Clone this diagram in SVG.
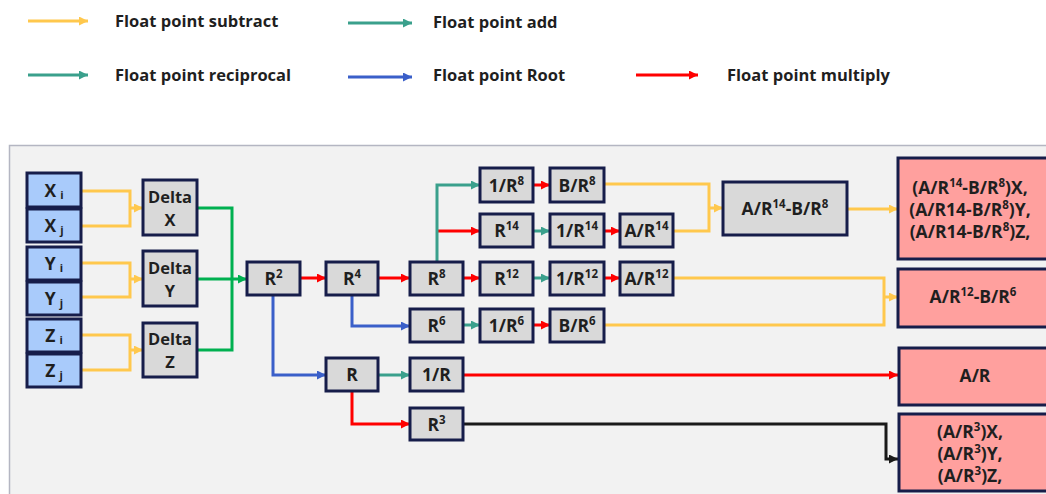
<svg xmlns="http://www.w3.org/2000/svg" width="1046" height="494" viewBox="0 0 1046 494">
  <style>
    text { font-family: "Open Sans", "Noto Sans", "Liberation Sans", sans-serif; font-weight: 700; fill: #1f1f1f; }
    .legend { font-size: 16.5px; }
    .lbl { font-size: 17.5px; text-anchor: middle; }
    .two { font-size: 16.5px; }
    .sup { font-size: 11.5px; }
    .sub { font-size: 11px; }
    .node-in rect { fill: #a9cbfb; stroke: #161d4a; stroke-width: 3; }
    .node rect { fill: #d9d9d9; stroke: #161d4a; stroke-width: 3; }
    .node-out rect { fill: #ffa09e; stroke: #161d4a; stroke-width: 3; }
    .wire { fill: none; stroke-width: 3; }
    .sub-c { stroke: #ffc84d; }
    .add-c { stroke: #3aa08c; }
    .grn-c { stroke: #00b050; }
    .root-c { stroke: #3a5fc9; }
    .mul-c { stroke: #ff0000; }
    .blk-c { stroke: #1a1a1a; }
  </style>
  <defs>
    <marker id="ah-sub" markerUnits="userSpaceOnUse" markerWidth="9" markerHeight="9" refX="9" refY="4.5" orient="auto"><path d="M0,0 L9,4.5 L0,9 z" fill="#ffc84d"/></marker>
    <marker id="ah-add" markerUnits="userSpaceOnUse" markerWidth="9" markerHeight="9" refX="9" refY="4.5" orient="auto"><path d="M0,0 L9,4.5 L0,9 z" fill="#3aa08c"/></marker>
    <marker id="ah-grn" markerUnits="userSpaceOnUse" markerWidth="9" markerHeight="9" refX="9" refY="4.5" orient="auto"><path d="M0,0 L9,4.5 L0,9 z" fill="#00b050"/></marker>
    <marker id="ah-root" markerUnits="userSpaceOnUse" markerWidth="9" markerHeight="9" refX="9" refY="4.5" orient="auto"><path d="M0,0 L9,4.5 L0,9 z" fill="#3a5fc9"/></marker>
    <marker id="ah-mul" markerUnits="userSpaceOnUse" markerWidth="9" markerHeight="9" refX="9" refY="4.5" orient="auto"><path d="M0,0 L9,4.5 L0,9 z" fill="#ff0000"/></marker>
    <marker id="ah-blk" markerUnits="userSpaceOnUse" markerWidth="9" markerHeight="9" refX="9" refY="4.5" orient="auto"><path d="M0,0 L9,4.5 L0,9 z" fill="#1a1a1a"/></marker>
  </defs>

  <rect width="1046" height="494" fill="#ffffff"/>

  <!-- legend -->
  <g id="legend">
    <path class="wire sub-c" d="M28,21 H88" stroke-width="4" marker-end="url(#ah-sub)"/>
    <text class="legend" x="115" y="27">Float point subtract</text>
    <path class="wire add-c" d="M348,23 H412" stroke-width="4" marker-end="url(#ah-add)"/>
    <text class="legend" x="433" y="28">Float point add</text>
    <path class="wire add-c" d="M28,75 H88" stroke-width="4" marker-end="url(#ah-add)"/>
    <text class="legend" x="115" y="81">Float point reciprocal</text>
    <path class="wire root-c" d="M348,77 H412" stroke-width="4" marker-end="url(#ah-root)"/>
    <text class="legend" x="433" y="81">Float point Root</text>
    <path class="wire mul-c" d="M636,75 H698" stroke-width="4" marker-end="url(#ah-mul)"/>
    <text class="legend" x="727" y="81">Float point multiply</text>
  </g>

  <!-- panel -->
  <rect x="9.5" y="145.5" width="1045" height="360" fill="#f2f2f2" stroke="#b4b6c2" stroke-width="1.5"/>

  <!-- connectors -->
  <g id="connectors">
    <path class="wire sub-c" d="M81,191 H130 V226 H81"/>
    <path class="wire sub-c" d="M130,208 H143" marker-end="url(#ah-sub)"/>
    <path class="wire sub-c" d="M81,263 H130 V297 H81"/>
    <path class="wire sub-c" d="M130,279 H143" marker-end="url(#ah-sub)"/>
    <path class="wire sub-c" d="M81,335 H130 V370 H81"/>
    <path class="wire sub-c" d="M130,350 H143" marker-end="url(#ah-sub)"/>

    <path class="wire grn-c" d="M197,208 H232 V350 H197"/>
    <path class="wire grn-c" d="M197,279 H247" marker-end="url(#ah-grn)"/>

    <path class="wire mul-c" d="M300,278 H326" marker-end="url(#ah-mul)"/>
    <path class="wire mul-c" d="M378,278 H410" marker-end="url(#ah-mul)"/>
    <path class="wire mul-c" d="M463,278 H480" marker-end="url(#ah-mul)"/>
    <path class="wire mul-c" d="M437,231 H480" marker-end="url(#ah-mul)"/>
    <path class="wire mul-c" d="M533,185 H550" marker-end="url(#ah-mul)"/>
    <path class="wire mul-c" d="M604,231 H620" marker-end="url(#ah-mul)"/>
    <path class="wire mul-c" d="M604,278 H620" marker-end="url(#ah-mul)"/>
    <path class="wire mul-c" d="M533,325 H550" marker-end="url(#ah-mul)"/>
    <path class="wire mul-c" d="M463,375 H898" marker-end="url(#ah-mul)"/>
    <path class="wire mul-c" d="M352,391 V424 H410" marker-end="url(#ah-mul)"/>

    <path class="wire add-c" d="M437,262 V185 H480" marker-end="url(#ah-add)"/>
    <path class="wire add-c" d="M533,231 H550" marker-end="url(#ah-add)"/>
    <path class="wire add-c" d="M533,278 H550" marker-end="url(#ah-add)"/>
    <path class="wire add-c" d="M463,325 H480" marker-end="url(#ah-add)"/>
    <path class="wire add-c" d="M378,375 H410" marker-end="url(#ah-add)"/>

    <path class="wire root-c" d="M273,295 V375 H326" marker-end="url(#ah-root)"/>
    <path class="wire root-c" d="M352,295 V326 H410" marker-end="url(#ah-root)"/>

    <path class="wire sub-c" d="M604,184 H709 V231 H673"/>
    <path class="wire sub-c" d="M709,208 H723" marker-end="url(#ah-sub)"/>
    <path class="wire sub-c" d="M847,209 H898" stroke-width="4" marker-end="url(#ah-sub)"/>
    <path class="wire sub-c" d="M673,278 H884 V325 H604"/>
    <path class="wire sub-c" d="M884,297 H898" marker-end="url(#ah-sub)"/>

    <path class="wire blk-c" d="M463,424 H886 V459 H898" marker-end="url(#ah-blk)"/>
  </g>

  <!-- input coordinates -->
  <g id="xi" class="node-in"><rect x="27" y="173" width="54" height="34"/><text class="lbl" x="54" y="197">X<tspan class="sub" dx="4" dy="2">i</tspan></text></g>
  <g id="xj" class="node-in"><rect x="27" y="209" width="54" height="33"/><text class="lbl" x="54" y="232">X<tspan class="sub" dx="4" dy="2">j</tspan></text></g>
  <g id="yi" class="node-in"><rect x="27" y="247" width="54" height="33"/><text class="lbl" x="54" y="270">Y<tspan class="sub" dx="4" dy="2">i</tspan></text></g>
  <g id="yj" class="node-in"><rect x="27" y="282" width="54" height="33"/><text class="lbl" x="54" y="305">Y<tspan class="sub" dx="4" dy="2">j</tspan></text></g>
  <g id="zi" class="node-in"><rect x="27" y="319" width="54" height="33"/><text class="lbl" x="54" y="342">Z<tspan class="sub" dx="4" dy="2">i</tspan></text></g>
  <g id="zj" class="node-in"><rect x="27" y="354" width="54" height="33"/><text class="lbl" x="54" y="377">Z<tspan class="sub" dx="4" dy="2">j</tspan></text></g>

  <!-- differences -->
  <g id="delta-x" class="node"><rect x="143" y="180" width="54" height="55"/><text class="lbl two" x="170" y="202.5">Delta</text><text class="lbl two" x="170" y="225.5">X</text></g>
  <g id="delta-y" class="node"><rect x="143" y="251" width="54" height="55"/><text class="lbl two" x="170" y="273.5">Delta</text><text class="lbl two" x="170" y="296.5">Y</text></g>
  <g id="delta-z" class="node"><rect x="143" y="323" width="54" height="54"/><text class="lbl two" x="170" y="345">Delta</text><text class="lbl two" x="170" y="368">Z</text></g>

  <!-- powers of R -->
  <g id="r2" class="node"><rect x="247" y="262" width="53" height="33"/><text class="lbl" x="273.5" y="285">R<tspan class="sup" dy="-7">2</tspan></text></g>
  <g id="r4" class="node"><rect x="326" y="262" width="52" height="33"/><text class="lbl" x="352" y="285">R<tspan class="sup" dy="-7">4</tspan></text></g>
  <g id="r8" class="node"><rect x="410" y="262" width="53" height="33"/><text class="lbl" x="436.5" y="285">R<tspan class="sup" dy="-7">8</tspan></text></g>
  <g id="r6" class="node"><rect x="410" y="309" width="53" height="33"/><text class="lbl" x="436.5" y="332">R<tspan class="sup" dy="-7">6</tspan></text></g>
  <g id="r" class="node"><rect x="326" y="358" width="52" height="33"/><text class="lbl" x="352" y="381">R</text></g>
  <g id="inv-r" class="node"><rect x="410" y="358" width="53" height="33"/><text class="lbl" x="436.5" y="381">1/R</text></g>
  <g id="r3" class="node"><rect x="410" y="408" width="53" height="32"/><text class="lbl" x="436.5" y="431">R<tspan class="sup" dy="-7">3</tspan></text></g>

  <g id="inv-r8" class="node"><rect x="480" y="168" width="53" height="34"/><text class="lbl" x="506.5" y="192">1/R<tspan class="sup" dy="-7">8</tspan></text></g>
  <g id="b-r8" class="node"><rect x="550" y="168" width="54" height="34"/><text class="lbl" x="577" y="192">B/R<tspan class="sup" dy="-7">8</tspan></text></g>
  <g id="r14" class="node"><rect x="480" y="214" width="53" height="33"/><text class="lbl" x="506.5" y="237">R<tspan class="sup" dy="-7">14</tspan></text></g>
  <g id="inv-r14" class="node"><rect x="550" y="214" width="54" height="33"/><text class="lbl" x="577" y="237">1/R<tspan class="sup" dy="-7">14</tspan></text></g>
  <g id="a-r14" class="node"><rect x="620" y="214" width="53" height="33"/><text class="lbl" x="646.5" y="237">A/R<tspan class="sup" dy="-7">14</tspan></text></g>
  <g id="r12" class="node"><rect x="480" y="262" width="53" height="33"/><text class="lbl" x="506.5" y="285">R<tspan class="sup" dy="-7">12</tspan></text></g>
  <g id="inv-r12" class="node"><rect x="550" y="262" width="54" height="33"/><text class="lbl" x="577" y="285">1/R<tspan class="sup" dy="-7">12</tspan></text></g>
  <g id="a-r12" class="node"><rect x="620" y="262" width="53" height="33"/><text class="lbl" x="646.5" y="285">A/R<tspan class="sup" dy="-7">12</tspan></text></g>
  <g id="inv-r6" class="node"><rect x="480" y="309" width="53" height="33"/><text class="lbl" x="506.5" y="332">1/R<tspan class="sup" dy="-7">6</tspan></text></g>
  <g id="b-r6" class="node"><rect x="550" y="309" width="54" height="33"/><text class="lbl" x="577" y="332">B/R<tspan class="sup" dy="-7">6</tspan></text></g>

  <g id="a-r14-b-r8" class="node"><rect x="723" y="182" width="124" height="53"/><text class="lbl" x="785" y="215">A/R<tspan class="sup" dy="-7">14</tspan><tspan dy="7">-B/R</tspan><tspan class="sup" dy="-7">8</tspan></text></g>

  <!-- outputs -->
  <g id="out-force" class="node-out"><rect x="898" y="158" width="160" height="101"/>
    <text class="lbl" x="970" y="194">(A/R<tspan class="sup" dy="-7">14</tspan><tspan dy="7">-B/R</tspan><tspan class="sup" dy="-7">8</tspan><tspan dy="7">)X,</tspan></text>
    <text class="lbl" x="970" y="216">(A/R14-B/R<tspan class="sup" dy="-7">8</tspan><tspan dy="7">)Y,</tspan></text>
    <text class="lbl" x="970" y="238">(A/R14-B/R<tspan class="sup" dy="-7">8</tspan><tspan dy="7">)Z,</tspan></text>
  </g>
  <g id="out-energy" class="node-out"><rect x="898" y="269" width="160" height="58"/>
    <text class="lbl" x="973" y="303">A/R<tspan class="sup" dy="-7">12</tspan><tspan dy="7">-B/R</tspan><tspan class="sup" dy="-7">6</tspan></text>
  </g>
  <g id="out-a-r" class="node-out"><rect x="899" y="348" width="160" height="57"/>
    <text class="lbl" x="975" y="382">A/R</text>
  </g>
  <g id="out-r3" class="node-out"><rect x="899" y="414" width="160" height="77"/>
    <text class="lbl" x="970" y="438">(A/R<tspan class="sup" dy="-7">3</tspan><tspan dy="7">)X,</tspan></text>
    <text class="lbl" x="970" y="460">(A/R<tspan class="sup" dy="-7">3</tspan><tspan dy="7">)Y,</tspan></text>
    <text class="lbl" x="970" y="482">(A/R<tspan class="sup" dy="-7">3</tspan><tspan dy="7">)Z,</tspan></text>
  </g>
</svg>
